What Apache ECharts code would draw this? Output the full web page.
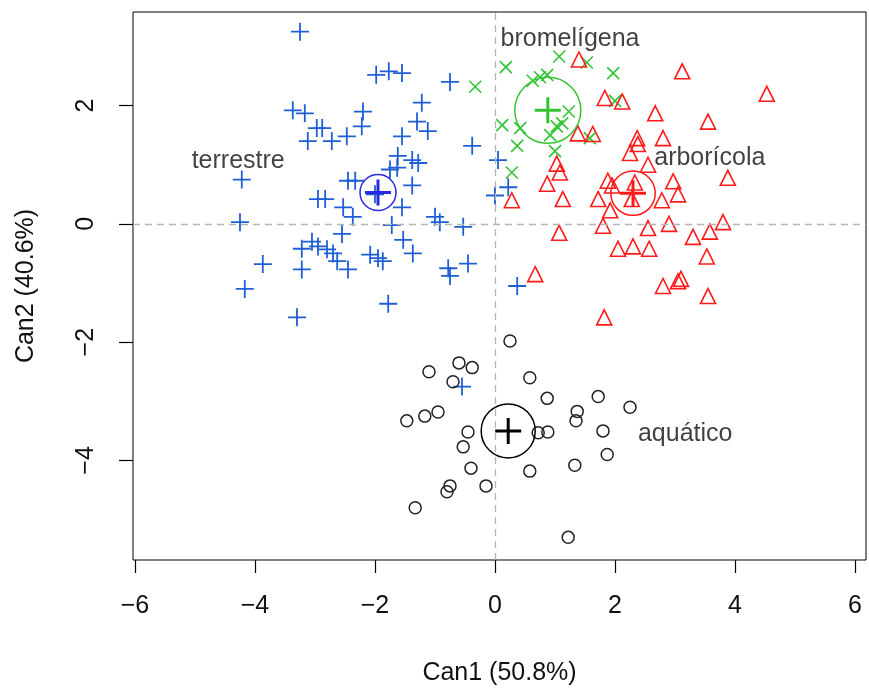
<!DOCTYPE html>
<html><head><meta charset="utf-8">
<script src="https://cdn.jsdelivr.net/npm/echarts@6/dist/echarts.min.js"></script>
<style>html,body{margin:0;padding:0;background:#fff}#c{width:869px;height:691px}</style>
</head><body><div id="c"></div>
<script>
const xTicks = [-6, -4, -2, 0, 2, 4, 6];
const yTicks = [-4, -2, 0, 2];
const xTitle = 'Can1 (50.8%)';
const yTitle = 'Can2 (40.6%)';

const terrestre = [
[-3.25,3.25],[-1.98,2.52],[-1.77,2.58],[-1.55,2.55],[-0.75,2.40],[-3.37,1.92],[-3.17,1.87],
[-2.20,1.90],[-2.22,1.65],[-1.22,2.05],[-1.30,1.73],[-1.12,1.57],[-2.97,1.62],[-2.88,1.62],
[-3.12,1.40],[-2.72,1.40],[-2.47,1.48],[-1.55,1.48],[-0.38,1.32],[-1.62,1.15],[-1.38,1.08],
[-1.28,1.03],[0.05,1.08],[-4.22,0.75],[-4.25,0.03],[-2.45,0.73],[-2.33,0.73],
[-2.95,0.42],[-2.83,0.42],[-2.53,0.28],[-2.37,0.12],[-2.55,-0.17],[-3.22,-0.42],[-3.05,-0.30],
[-2.95,-0.38],[-2.80,-0.43],[-2.70,-0.50],[-2.63,-0.63],[-2.45,-0.77],[-3.22,-0.77],[-3.87,-0.68],[-4.17,-1.10],
[-3.30,-1.58],[-1.38,0.65],[-1.55,0.28],[-1.72,-0.02],[-1.00,0.12],[-0.92,0.03],[-0.53,-0.05],
[-1.53,-0.27],[-1.37,-0.50],[-2.08,-0.52],[-1.95,-0.58],[-1.87,-0.63],[-0.78,-0.75],[-0.75,-0.88],[-0.45,-0.67],
[-1.78,-1.35],[0.37,-1.05],[0.00,0.48],[0.22,0.62],[-0.55,-2.75],[-2.00,0.50],[-1.75,0.92],[-1.63,0.95]
];
const bromeligena = [
[-0.33,2.32],[0.18,2.65],[1.07,2.83],[1.53,2.73],[1.97,2.55],[0.63,2.42],[0.75,2.48],[0.87,2.52],
[1.23,1.90],[0.12,1.67],[0.42,1.62],[1.03,1.65],[1.12,1.70],[0.92,1.50],[1.58,1.45],[0.37,1.32],
[1.00,1.23],[0.28,0.87],[2.00,2.08]
];
const arboricola = [
[1.40,2.78],[3.12,2.58],[1.83,2.13],[2.12,2.07],[2.67,1.87],[3.55,1.73],[4.53,2.20],[1.38,1.53],
[1.63,1.52],[2.37,1.45],[2.38,1.35],[2.80,1.45],[2.25,1.20],[2.55,1.00],[1.03,1.02],[1.08,0.87],
[3.88,0.78],[2.97,0.72],[1.88,0.73],[1.95,0.65],[0.87,0.68],[0.28,0.40],[1.13,0.42],[1.72,0.42],
[1.92,0.23],[2.28,0.42],[2.78,0.40],[3.05,0.50],[1.80,-0.03],[2.55,-0.07],[2.90,0.00],[1.07,-0.15],
[3.30,-0.22],[3.58,-0.13],[3.80,0.03],[2.05,-0.42],[2.30,-0.38],[2.57,-0.42],[3.53,-0.55],[0.67,-0.85],
[2.80,-1.05],[3.05,-0.97],[3.10,-0.93],[3.55,-1.22],[1.82,-1.58],[2.33,0.70]
];
const aquatico = [
[0.25,-1.98],[-0.60,-2.35],[-0.38,-2.43],[-1.10,-2.50],[-0.70,-2.67],[0.58,-2.60],[0.87,-2.95],
[-1.47,-3.33],[-1.17,-3.25],[-0.95,-3.18],[-0.45,-3.52],[-0.53,-3.77],[0.72,-3.53],[0.88,-3.52],
[-0.40,-4.13],[0.58,-4.18],[-0.15,-4.43],[-0.75,-4.43],[-0.80,-4.53],[-1.33,-4.80],[1.72,-2.92],
[2.25,-3.10],[1.37,-3.17],[1.35,-3.33],[1.80,-3.50],[1.87,-3.90],[1.33,-4.08],[1.22,-5.30]
];
// group means [x, y] and circle radius (data units)
const groupNames = ['terrestre', 'bromelígena', 'arborícola', 'aquático'];
const groupMeans = [[-1.95,0.53],[0.88,1.92],[2.30,0.52],[0.22,-3.50]];
const circleRadius = [0.30, 0.55, 0.37, 0.45];
const labelPos = [[-4.28,1.07],[1.25,3.12],[3.58,1.12],[3.17,-3.55]];

const pointColors = ['#1f5fd6', '#33c433', '#ff1a1a', '#222222'];
const meanColors = ['#2a2ae6', '#33c433', '#ff1a1a', '#000000'];

const PLUS = 'path://M5,0L5,10M0,5L10,5';
const CROSS = 'path://M0,0L10,10M10,0L0,10';
const FONT = 'Liberation Sans';
const FS = 25;
const minus = v => String(v).replace('-', '\u2212');

const chart = echarts.init(document.getElementById('c'));

function pts(data, symbol, size, color, w) {
  return {
    type: 'scatter', data: data, symbol: symbol, symbolSize: size, silent: true,
    itemStyle: {color: 'rgba(0,0,0,0)', borderColor: color, borderWidth: w, opacity: 1},
    z: 3
  };
}

const series = [
  {
    type: 'scatter', data: [], silent: true,
    markLine: {
      silent: true, symbol: 'none', animation: false,
      label: {show: false},
      lineStyle: {color: '#b4b4b4', type: [7, 5], width: 1.3},
      data: [{xAxis: 0}, {yAxis: 0}]
    },
    z: 1
  },
  pts(terrestre, PLUS, 18, pointColors[0], 1.8),
  pts(bromeligena, CROSS, 12, pointColors[1], 1.6),
  pts(arboricola, 'triangle', 15, pointColors[2], 1.6),
  pts(aquatico, 'circle', 12, pointColors[3], 1.5),
  {
    type: 'custom', silent: true, z: 4,
    data: groupMeans.map((m, i) => [m[0], m[1], circleRadius[i], i]),
    renderItem: function (params, api) {
      const c = api.coord([api.value(0), api.value(1)]);
      const r = api.size([api.value(2), 0])[0];
      const i = api.value(3);
      return {
        type: 'circle', shape: {cx: c[0], cy: c[1], r: r},
        style: {fill: 'none', stroke: meanColors[i], lineWidth: 1.5}
      };
    }
  },
  {
    type: 'scatter', silent: true, z: 5, symbol: PLUS, symbolSize: 26,
    data: groupMeans.map((m, i) => ({value: m, itemStyle: {borderColor: meanColors[i]}})),
    itemStyle: {color: 'rgba(0,0,0,0)', borderWidth: 3, opacity: 1}
  },
  {
    type: 'scatter', silent: true, z: 6, symbolSize: 0,
    data: labelPos.map((p, i) => ({value: p, name: groupNames[i]})),
    label: {show: true, position: 'inside', formatter: '{b}', color: '#111',
            fontFamily: FONT, fontSize: FS}
  }
];

chart.setOption({
  animation: false,
  backgroundColor: '#fff',
  grid: {left: 133, right: 3, top: 12, bottom: 123, show: true,
         borderColor: '#000', borderWidth: 1, backgroundColor: 'rgba(0,0,0,0)'},
  xAxis: {
    type: 'value', min: -6.033, max: 6.183,
    name: xTitle, nameLocation: 'middle', nameGap: 101,
    nameTextStyle: {fontFamily: FONT, fontSize: FS, color: '#111'},
    axisLine: {show: false, onZero: false},
    splitLine: {show: false},
    axisTick: {show: true, length: 13, customValues: xTicks, lineStyle: {color: '#000', width: 1.2}},
    axisLabel: {customValues: xTicks, formatter: minus, margin: 34,
                fontFamily: FONT, fontSize: FS, color: '#111'}
  },
  yAxis: {
    type: 'value', min: -5.683, max: 3.583,
    name: yTitle, nameLocation: 'middle', nameGap: 94, nameRotate: 90,
    nameTextStyle: {fontFamily: FONT, fontSize: FS, color: '#111'},
    axisLine: {show: false, onZero: false},
    splitLine: {show: false},
    axisTick: {show: true, length: 14, customValues: yTicks, lineStyle: {color: '#000', width: 1.2}},
    axisLabel: {customValues: yTicks, formatter: minus, rotate: 90, margin: 34,
                fontFamily: FONT, fontSize: FS, color: '#111'}
  },
  series: series
});
</script></body></html>
